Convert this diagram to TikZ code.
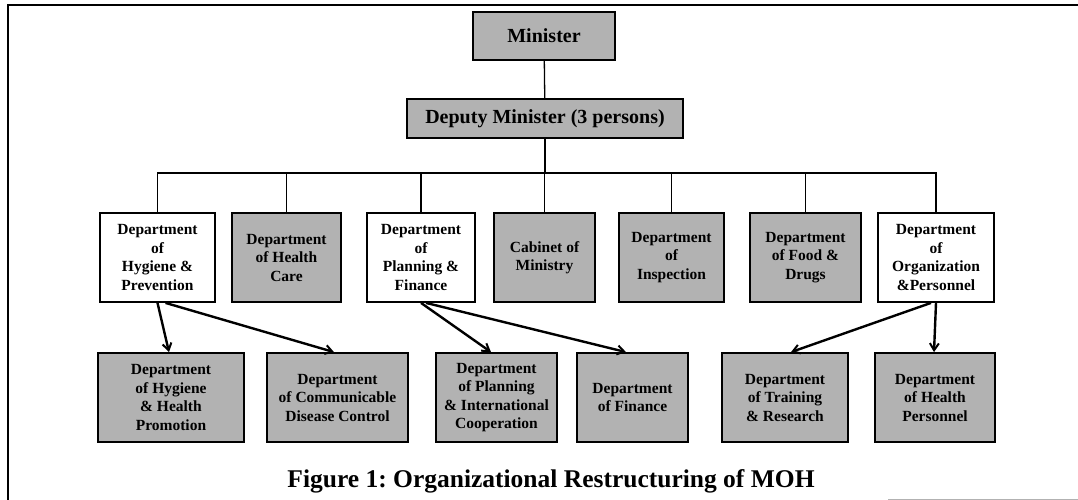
\documentclass[tikz,border=0pt]{standalone}
\usepackage{fontspec}
\setmainfont{Liberation Serif}
\usetikzlibrary{arrows.meta, positioning}
\definecolor{boxgrey}{gray}{0.7}
\frenchspacing

\begin{document}
\begin{tikzpicture}[x=1pt, y=1pt,
  dept/.style={draw, line width=1.8pt, inner sep=0pt, align=center, minimum height=89pt,
    font=\fontsize{15.5}{18.5}\selectfont\bfseries},
  greydept/.style={dept, fill=boxgrey},
  whitedept/.style={dept, fill=white},
  topbox/.style={draw, line width=1.8pt, fill=boxgrey, inner sep=0pt,
    font=\fontsize{20}{24}\selectfont\bfseries},
  link/.style={line width=1.3pt},
  move/.style={line width=2.4pt, -{Straight Barb[length=7pt, width=9pt, line width=2pt]}}]
\useasboundingbox (0,0) rectangle (1078,-500);
\draw [line width=1.5pt] (8,-500) -- (8,-5) -- (1078,-5);
\draw [gray!60, line width=1pt] (888,-499) -- (1078,-499);

\node [topbox, minimum width=142pt, minimum height=48pt] (min) at (544,-36) {Minister};
\node [topbox, minimum width=276pt, minimum height=39pt] (dep) at (545,-118.5) {Deputy Minister (3 persons)};

\node [whitedept, minimum width=115pt] (h1) at (157.5,-257.5) {Department\\of\\Hygiene \&\\Prevention};
\node [greydept, minimum width=109pt] (h2) at (286.5,-257.5) {Department\\of Health\\Care};
\node [whitedept, minimum width=108pt] (h3) at (421,-257.5) {Department\\of\\Planning \&\\Finance};
\node [greydept, minimum width=101pt] (h4) at (544.5,-257.5) {Cabinet of\\Ministry};
\node [greydept, minimum width=105pt] (h5) at (671.5,-257.5) {Department\\of\\Inspection};
\node [greydept, minimum width=111pt] (h6) at (805.5,-257.5) {Department\\of Food \&\\Drugs};
\node [whitedept, minimum width=116pt] (h7) at (936,-257.5) {Department\\of\\Organization\\\&Personnel};

\node [greydept, minimum width=146pt] (l1) at (171,-397.5) {Department\\of Hygiene\\\& Health\\Promotion};
\node [greydept, minimum width=141pt] (l2) at (337.5,-397.5) {Department\\of Communicable\\Disease Control};
\node [greydept, minimum width=121pt] (l3) at (496.5,-397.5) {Department\\of Planning\\\& International\\Cooperation};
\node [greydept, minimum width=111pt] (l4) at (632.5,-397.5) {Department\\of Finance};
\node [greydept, minimum width=126pt] (l5) at (785,-397.5) {Department\\of Training\\\& Research};
\node [greydept, minimum width=120pt] (l6) at (935,-397.5) {Department\\of Health\\Personnel};

\node [font=\fontsize{25.5}{29}\selectfont\bfseries] (cap) at (551,-481) {Figure 1: Organizational Restructuring of MOH};

\coordinate (bus) at (0,-173);
\draw [link] (min) -- (dep);
\draw [link] (dep.south) -- (dep.south |- bus);
\draw [link] (h1.north) |- (h7.north |- bus) -- (h7.north);
\foreach \n in {h2,h3,h4,h5,h6}
  \draw [link] (\n.north) -- (\n.north |- bus);

\draw [move] (h1.south) -- ([xshift=-2pt]l1.north);
\draw [move] ([xshift=8pt]h1.south) -- ([xshift=-3.5pt]l2.north);
\draw [move] (h3.south) -- ([xshift=-5.5pt]l3.north);
\draw [move] ([xshift=5pt]h3.south) -- ([xshift=-6.5pt]l4.north);
\draw [move] ([xshift=-5pt]h7.south) -- ([xshift=6pt]l5.north);
\draw [move] (h7.south) -- ([xshift=-1pt]l6.north);
\end{tikzpicture}
\end{document}
